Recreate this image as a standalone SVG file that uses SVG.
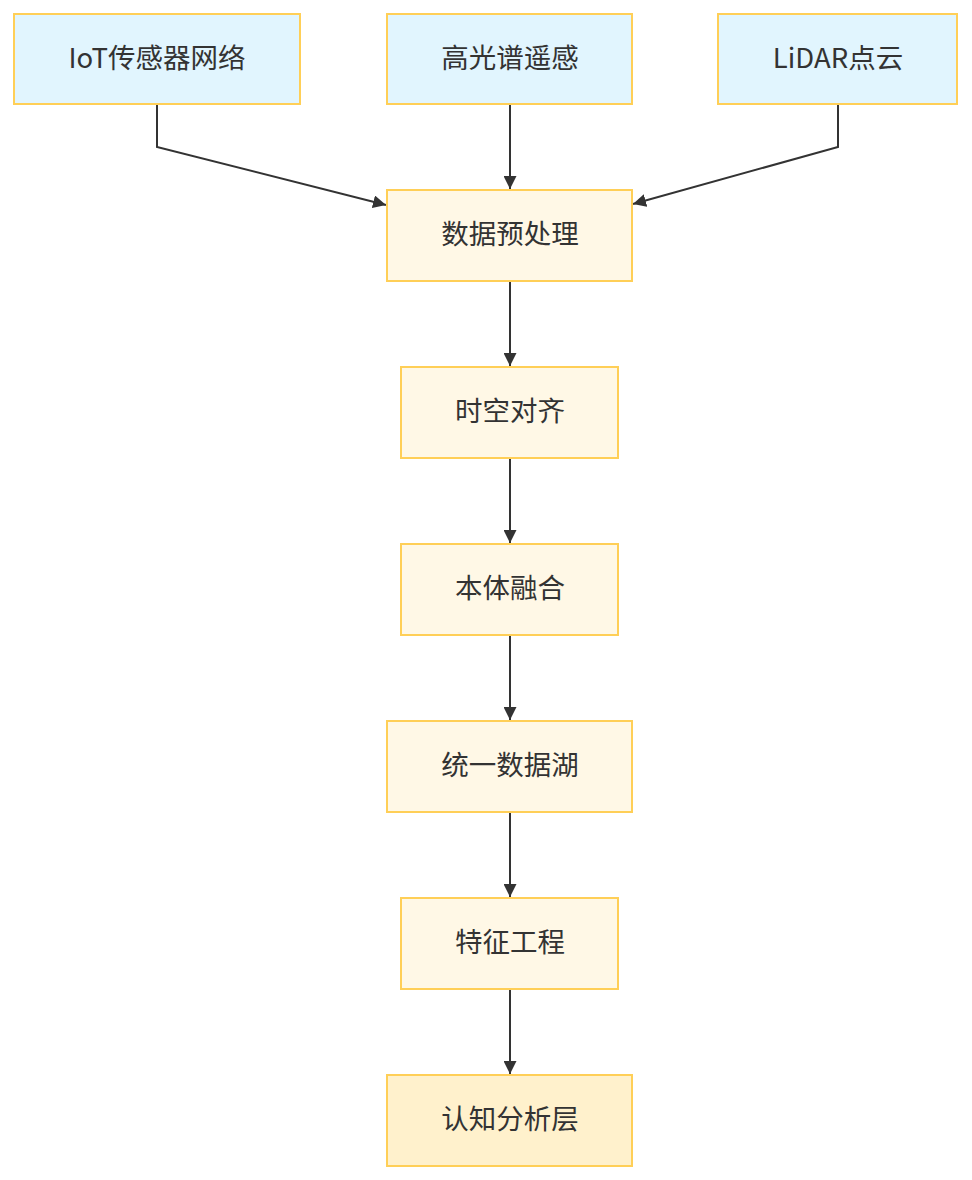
<svg xmlns="http://www.w3.org/2000/svg" width="972" height="1180" viewBox="0 0 972 1180">
<defs>
<style>
.src rect{fill:#e1f5fe;stroke:#ffcf57;stroke-width:2}
.proc rect{fill:#fff8e6;stroke:#ffcf57;stroke-width:2}
.out rect{fill:#fff1cc;stroke:#ffcf57;stroke-width:2}
text{font-family:"Noto Sans CJK SC","Noto Sans",sans-serif;font-size:27.5px;fill:#333;text-anchor:middle;dominant-baseline:central}
.edges path{fill:none;stroke:#333;stroke-width:2}
</style>
<marker id="arr" viewBox="0 0 10 10" refX="10" refY="5" markerWidth="13" markerHeight="13" markerUnits="userSpaceOnUse" orient="auto">
<path d="M0,0 L10,5 L0,10 z" fill="#333"/>
</marker>
</defs>
<rect width="972" height="1180" fill="#fff"/>
<g class="edges">
<path d="M157,104 V147 L386,205" marker-end="url(#arr)"/>
<path d="M510,104 V189" marker-end="url(#arr)"/>
<path d="M838,104 V147 L633,204" marker-end="url(#arr)"/>
<path d="M510,281 V366" marker-end="url(#arr)"/>
<path d="M510,458 V543" marker-end="url(#arr)"/>
<path d="M510,635 V720" marker-end="url(#arr)"/>
<path d="M510,812 V897" marker-end="url(#arr)"/>
<path d="M510,989 V1074" marker-end="url(#arr)"/>
</g>
<g id="iot" class="src"><rect x="14" y="14" width="286" height="90"/><text x="157" y="56">IoT传感器网络</text></g>
<g id="hsi" class="src"><rect x="387" y="14" width="245" height="90"/><text x="510" y="56">高光谱遥感</text></g>
<g id="lidar" class="src"><rect x="718" y="14" width="239" height="90"/><text x="838" y="56">LiDAR点云</text></g>
<g id="pre" class="proc"><rect x="387" y="190" width="245" height="91"/><text x="510" y="232">数据预处理</text></g>
<g id="align" class="proc"><rect x="401" y="367" width="217" height="91"/><text x="510" y="409">时空对齐</text></g>
<g id="onto" class="proc"><rect x="401" y="544" width="217" height="91"/><text x="510" y="586">本体融合</text></g>
<g id="lake" class="proc"><rect x="387" y="721" width="245" height="91"/><text x="510" y="763">统一数据湖</text></g>
<g id="feat" class="proc"><rect x="401" y="898" width="217" height="91"/><text x="510" y="940">特征工程</text></g>
<g id="cog" class="out"><rect x="387" y="1075" width="245" height="91"/><text x="510" y="1117">认知分析层</text></g>
</svg>
